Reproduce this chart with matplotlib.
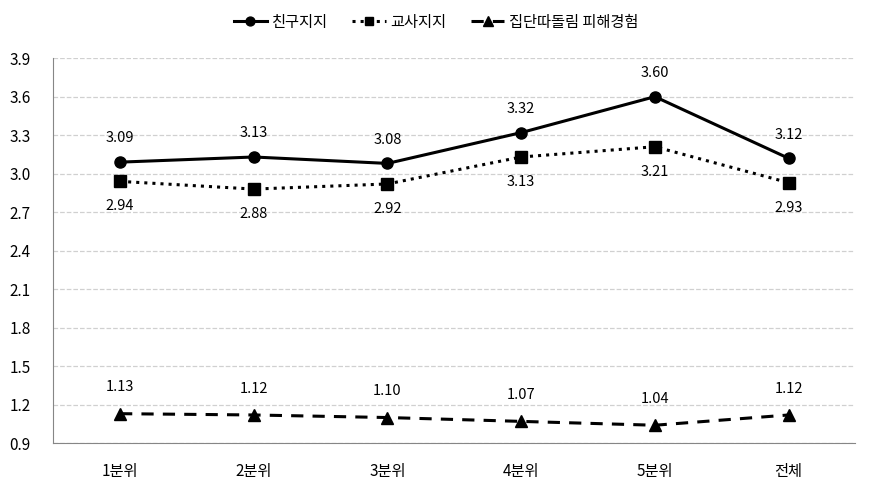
import numpy as np
import matplotlib.pyplot as plt

plt.rcParams['font.family'] = ['Noto Sans CJK KR', 'DejaVu Sans']

categories = ['1분위', '2분위', '3분위', '4분위', '5분위', '전체']
friend = [3.09, 3.13, 3.08, 3.32, 3.60, 3.12]
teacher = [2.94, 2.88, 2.92, 3.13, 3.21, 2.93]
bully = [1.13, 1.12, 1.10, 1.07, 1.04, 1.12]

fig = plt.figure(figsize=(8.72, 4.93), dpi=100)
ax = fig.add_axes([0.061, 0.101, 0.920, 0.781])
x = np.arange(len(categories))

ax.plot(x, friend, '-', color='black', lw=2.2, marker='o', ms=8, label='친구지지')
ax.plot(x, teacher, ':', color='black', lw=2.2, marker='s', ms=8, label='교사지지')
ax.plot(x, bully, '--', color='black', lw=2.2, marker='^', ms=9, label='집단따돌림 피해경험',
        dashes=(4, 3))

for i in x:
    ax.annotate(f'{friend[i]:.2f}', (i, friend[i]), xytext=(0, 12), textcoords='offset points',
                ha='center', va='bottom', fontsize=10.5)
    ax.annotate(f'{teacher[i]:.2f}', (i, teacher[i]), xytext=(0, -13), textcoords='offset points',
                ha='center', va='top', fontsize=10.5)
    ax.annotate(f'{bully[i]:.2f}', (i, bully[i]), xytext=(0, 14), textcoords='offset points',
                ha='center', va='bottom', fontsize=10.5)

ax.set_xlim(-0.5, len(categories) - 0.5)
ax.set_ylim(0.9, 3.9)
ax.set_yticks(np.arange(0.9, 3.91, 0.3))
ax.set_yticklabels([f'{v:.1f}' for v in np.arange(0.9, 3.91, 0.3)])
ax.set_xticks(x)
ax.set_xticklabels(categories)
ax.tick_params(axis='both', length=0, labelsize=11)
ax.tick_params(axis='x', pad=14)
ax.tick_params(axis='y', pad=16)
ax.grid(axis='y', color='#d0d0d0', linestyle='--', lw=0.9)
ax.set_axisbelow(True)
for s in ['top', 'right']:
    ax.spines[s].set_visible(False)
for s in ['left', 'bottom']:
    ax.spines[s].set_color('#868686')

fig.legend(loc='upper center', bbox_to_anchor=(0.5, 1.0), ncol=3, frameon=False,
           fontsize=11, handlelength=2.2, handletextpad=0.3, columnspacing=1.6,
           markerscale=0.8)

fig.savefig('out.png', dpi=100)
